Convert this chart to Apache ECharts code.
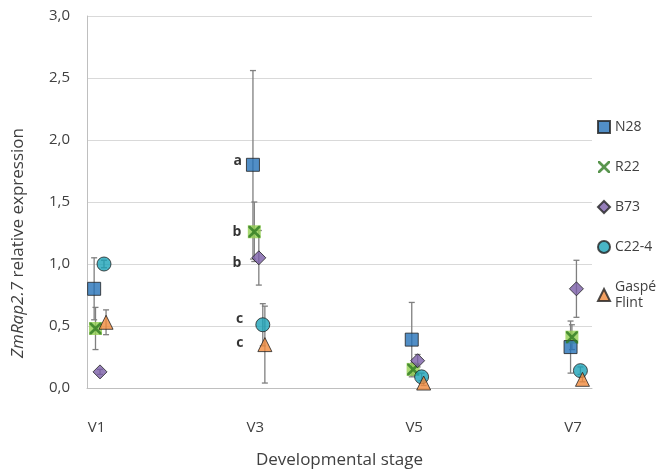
<!DOCTYPE html>
<html><head><meta charset="utf-8">
<script src="https://cdn.jsdelivr.net/npm/echarts@6/dist/echarts.min.js"></script>
<style>html,body{margin:0;padding:0;background:#fff}#c{width:662px;height:471px}</style>
</head><body><div id="c"></div>
<script>
const stages = [1, 3, 5, 7];
const stageLabels = ['V1', 'V3', 'V5', 'V7'];
const seriesNames = ['N28', 'R22', 'B73', 'C22-4', 'Gaspé\nFlint'];
const jitter = [-0.03, -0.013, 0.044, 0.094, 0.12];
const N28 = [0.80, 1.80, 0.39, 0.33];
const N28err = [0.25, 0.76, 0.30, 0.21];
const R22 = [0.48, 1.26, 0.15, 0.41];
const R22err = [0.17, 0.24, 0.05, 0.10];
const B73 = [0.13, 1.05, 0.22, 0.80];
const B73err = [0.02, 0.22, 0.05, 0.23];
const C224 = [1.00, 0.51, 0.09, 0.14];
const C224err = [0.03, 0.17, 0.03, 0.03];
const Gaspe = [0.53, 0.35, 0.04, 0.07];
const Gaspeerr = [0.10, 0.31, 0.02, 0.02];
const sigLetters = ['a', 'b', 'b', 'c', 'c']; // at V3

const values = [N28, R22, B73, C224, Gaspe];
const errs = [N28err, R22err, B73err, C224err, Gaspeerr];
const colors = ['#2672b8', '#8fd14f', '#7a5ea8', '#1ba3b8', '#f08a3c'];
const crossPath = 'path://M0,0 L1.6,0 L5,3.4 L8.4,0 L10,0 L10,1.6 L6.6,5 L10,8.4 L10,10 L8.4,10 L5,6.6 L1.6,10 L0,10 L0,8.4 L3.4,5 L0,1.6 Z';
const symbols = ['rect', crossPath, 'diamond', 'circle', 'triangle'];
const sizes = [13, 12, 14, 14, 14];
const labelDist = [4, 7, 10, 12, 14];
const labelDy = [-4, 0, 5, -6, -2];

const series = [];
values.forEach((vals, si) => {
  series.push({
    type: 'custom', silent: true, z: 1,
    data: vals.map((v, i) => [stages[i] + jitter[si], v - errs[si][i], v + errs[si][i]]),
    renderItem: (params, api) => {
      const x = api.value(0), lo = api.value(1), hi = api.value(2);
      const a = api.coord([x, hi]), b = api.coord([x, lo]);
      const st = {stroke: '#7f7f7f', lineWidth: 1.3};
      return {type: 'group', children: [
        {type: 'line', shape: {x1: a[0], y1: a[1], x2: b[0], y2: b[1]}, style: st},
        {type: 'line', shape: {x1: a[0] - 3, y1: a[1], x2: a[0] + 3, y2: a[1]}, style: st},
        {type: 'line', shape: {x1: b[0] - 3, y1: b[1], x2: b[0] + 3, y2: b[1]}, style: st}
      ]};
    }
  });
});
// light square behind R22 crosses
series.push({
  type: 'scatter', symbol: 'rect', symbolSize: 13, z: 2, silent: true,
  itemStyle: {color: '#92d050'},
  data: R22.map((v, i) => [stages[i] + jitter[1], v])
});
values.forEach((vals, si) => {
  series.push({
    name: seriesNames[si], type: 'scatter', z: 3,
    symbol: symbols[si], symbolSize: sizes[si],
    itemStyle: si === 1 ? {color: '#2f7a22', borderWidth: 0}
                        : {color: colors[si], borderColor: '#222', borderWidth: 1},
    data: vals.map((v, i) => {
      const item = {value: [stages[i] + jitter[si], v]};
      if (i === 1) item.label = {show: true, formatter: sigLetters[si], position: 'left',
        distance: labelDist[si], offset: [0, labelDy[si]], color: '#000', fontWeight: 'bold',
        fontSize: 14, fontFamily: 'Open Sans'};
      return item;
    })
  });
});

const chart = echarts.init(document.getElementById('c'));
chart.setOption({
  animation: false,
  textStyle: {fontFamily: 'Open Sans'},
  grid: {left: 87, top: 16, right: 70, bottom: 83, containLabel: false, outerBoundsMode: 'none'},
  legend: {
    orient: 'vertical', left: 597, top: 119, itemWidth: 12, itemHeight: 12, itemGap: 24,
    data: seriesNames, textStyle: {fontSize: 14, color: '#404040', fontFamily: 'Open Sans', lineHeight: 16},
    selectedMode: false, padding: 0, itemStyle: {}
  },
  xAxis: {
    type: 'value', min: 0.88, max: 7.24,
    name: 'Developmental stage', nameLocation: 'middle', nameGap: 64,
    nameTextStyle: {fontSize: 17, color: '#404040'},
    axisLine: {show: true, lineStyle: {color: '#bfbfbf'}},
    axisTick: {show: false}, splitLine: {show: false},
    axisLabel: {customValues: stages, formatter: v => stageLabels[stages.indexOf(v)] || '',
      margin: 32, fontSize: 15, color: '#404040'}
  },
  yAxis: {
    type: 'value', min: 0, max: 3, interval: 0.5,
    name: '{i|ZmRap2.7} relative expression', nameLocation: 'middle', nameGap: 60,
    nameTextStyle: {fontSize: 17, color: '#404040', padding: [0, 82, 0, 0],
      rich: {i: {fontStyle: 'italic', fontSize: 17, color: '#404040'}}},
    axisLine: {show: true, lineStyle: {color: '#bfbfbf'}},
    axisTick: {show: false},
    splitLine: {lineStyle: {color: '#d9d9d9'}},
    axisLabel: {formatter: v => v.toFixed(1).replace('.', ','), margin: 17, fontSize: 15, color: '#404040'}
  },
  series
});
</script></body></html>
